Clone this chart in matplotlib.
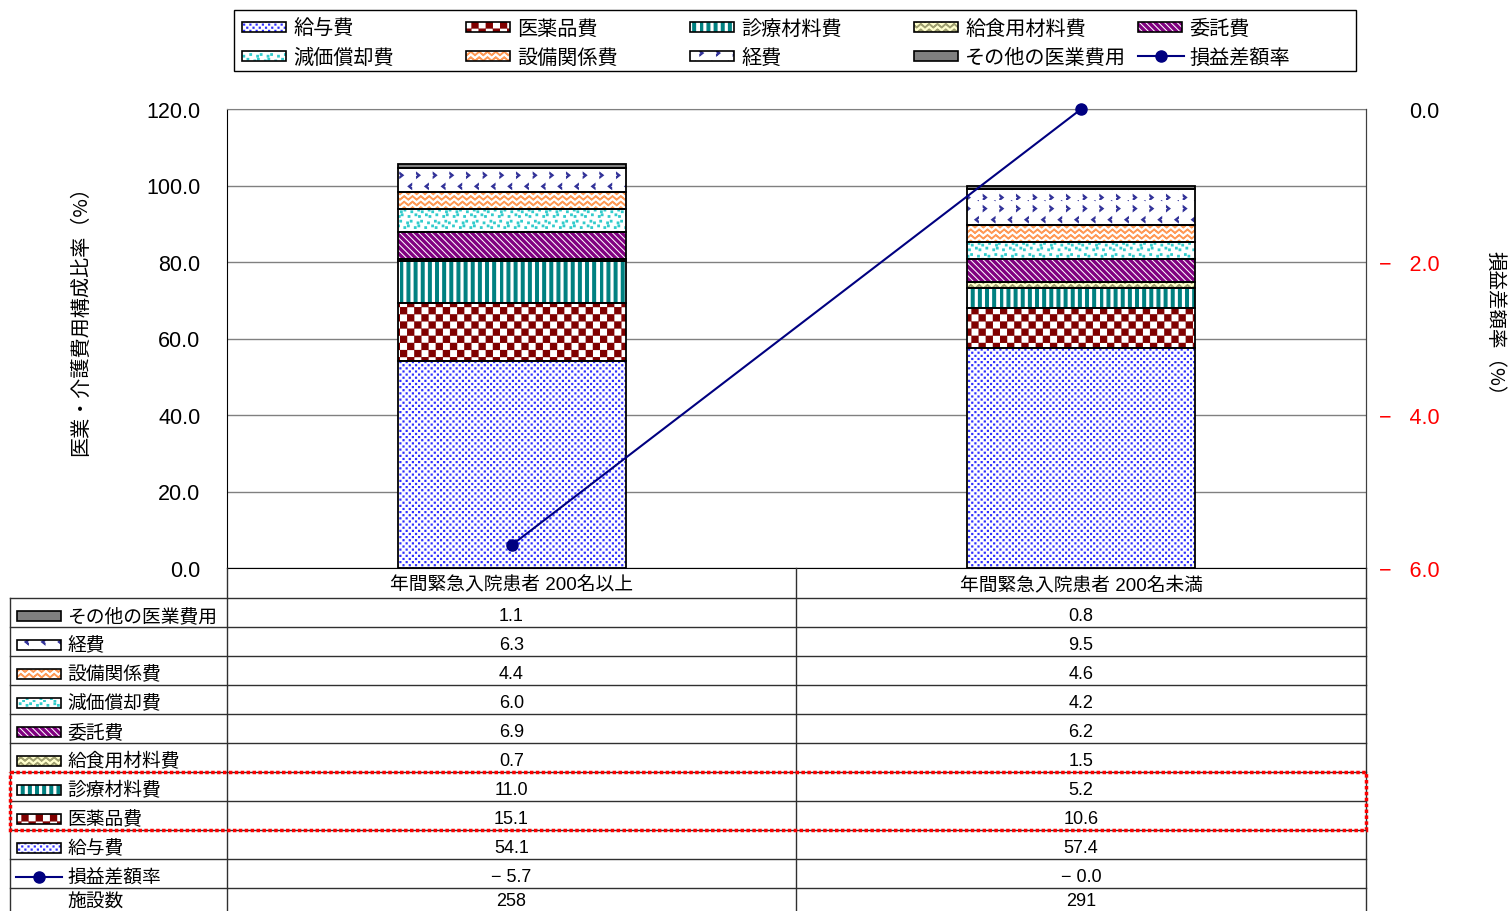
import warnings
warnings.filterwarnings('ignore')
import numpy as np
import matplotlib
matplotlib.use('Agg')
import matplotlib.pyplot as plt
import matplotlib.hatch as mhatch
from matplotlib.path import Path
from matplotlib.patches import Rectangle
from matplotlib import font_manager

# ---------------- data ----------------
categories = ['年間緊急入院患者 200名以上', '年間緊急入院患者 200名未満']
cost_items = ['給与費', '医薬品費', '診療材料費', '給食用材料費', '委託費',
              '減価償却費', '設備関係費', '経費', 'その他の医業費用']
ratio_200_over = [54.1, 15.1, 11.0, 0.7, 6.9, 6.0, 4.4, 6.3, 1.1]
ratio_200_under = [57.4, 10.6, 5.2, 1.5, 6.2, 4.2, 4.6, 9.5, 0.8]
profit_rate = [-5.7, -0.0]
facility_count = [258, 291]
line_name = '損益差額率'
count_name = '施設数'
left_label = '医業・介護費用構成比率（%）'
right_label = '損益差額率（%）'
left_ticks = [0, 20, 40, 60, 80, 100, 120]
right_ticks = [-6, -4, -2, 0]

# ---------------- fonts ----------------
CJK = 'Noto Sans CJK JP'
plt.rcParams['font.family'] = ['Liberation Sans', CJK, 'DejaVu Sans']
_names = {f.name for f in font_manager.fontManager.ttflist}
NUMFONT = ['Liberation Sans Narrow', CJK] if 'Liberation Sans Narrow' in _names else ['Liberation Sans', CJK]

# ---------------- custom hatch patterns (texture only) ----------------
def _rect(x0, y0, x1, y1):
    return [(x0, y0), (x1, y0), (x1, y1), (x0, y1)]

def gen_checker():
    n = 14; s = 1.0 / n; m = 0.006
    return [_rect(i * s + m, j * s + m, (i + 1) * s - m, (j + 1) * s - m)
            for i in range(n) for j in range(n) if (i + j) % 2 == 0]

def gen_stripes():
    n = 14; s = 1.0 / n; w = 0.026
    return [_rect(k * s, -0.03, k * s + w, 1.03) for k in range(n)]

def gen_diag():
    n = 16; p = 1.0 / n; w = 0.028; e = 0.05
    polys = []
    for k in range(-1, 2 * n + 2):
        a = k * p
        polys.append([(a + e, -e), (a + w + e, -e), (a + w - 1 - e, 1 + e), (a - 1 - e, 1 + e)])
    return polys

def gen_zigzag():
    nr = 18; nh = 12; amp = 0.035; t = 0.007
    polys = []
    idx = np.arange(-1, 2 * nh + 2)
    xs = idx / (2 * nh)
    for r in range(-1, nr + 1):
        y0 = r / nr
        ys = y0 + np.where(idx % 2 == 1, amp, 0.0)
        upper = list(zip(xs, ys + t))
        lower = list(zip(xs[::-1], ys[::-1]))
        polys.append(upper + lower)
    return polys

def gen_squares():
    n = 18; s = 1.0 / n; a = 0.014
    polys = []
    for j in range(n):
        for i in range(n):
            jx = (((i * 7 + j * 3) % 5) / 5.0 - 0.4) * s * 0.6
            jy = (((i * 2 + j * 5) % 4) / 4.0 - 0.4) * s * 0.6
            off = s / 2 if j % 2 else 0.0
            x0 = (i * s + off + jx) % 1.0
            y0 = (j * s + jy) % 1.0
            for dx in (-1, 0, 1):
                polys.append(_rect(x0 + dx, y0, x0 + dx + a, y0 + a))
    return polys

def gen_dots():
    nr = 32; nc = 16; a = 0.008
    polys = []
    for j in range(nr + 1):
        off = 0.5 / nc if j % 2 else 0.0
        for i in range(-1, nc + 1):
            x0 = i / nc + off; y0 = j / nr
            polys.append(_rect(x0, y0, x0 + a, y0 + a))
    return polys

def gen_chevrons():
    nr = 9; nc = 6; w = 0.032; h = 0.05; d = 0.012; ins = 0.016
    polys = []
    for j in range(nr + 1):
        y0 = j / nr
        for i in range(-1, nc + 1):
            if j % 2 == 0:
                x0 = i / nc
                polys.append([(x0, y0), (x0 + w, y0 + h / 2), (x0, y0 + h), (x0, y0 + h - d),
                              (x0 + w - ins, y0 + h / 2), (x0, y0 + d)])
            else:
                x0 = i / nc + 0.5 / nc
                polys.append([(x0 + w, y0), (x0, y0 + h / 2), (x0 + w, y0 + h), (x0 + w, y0 + h - d),
                              (x0 + ins, y0 + h / 2), (x0 + w, y0 + d)])
    return polys

CUSTOM = {'c': gen_checker, 's': gen_stripes, 'd': gen_diag, 'z': gen_zigzag,
          'q': gen_squares, 'p': gen_dots, 'k': gen_chevrons}
_hcache = {}

class CustomHatch(mhatch.HatchPatternBase):
    def __init__(self, hatch, density):
        polys = []
        for ch, fn in CUSTOM.items():
            if ch in hatch:
                if ch not in _hcache:
                    _hcache[ch] = fn()
                polys += _hcache[ch]
        self.polys = polys
        self.num_vertices = sum(len(p) + 1 for p in polys)

    def set_vertices_and_codes(self, vertices, codes):
        i = 0
        for p in self.polys:
            n = len(p)
            vertices[i:i + n] = p
            vertices[i + n] = p[0]
            codes[i] = Path.MOVETO
            codes[i + 1:i + n] = Path.LINETO
            codes[i + n] = Path.CLOSEPOLY
            i += n + 1

USE_CUSTOM = True
try:
    mhatch._hatch_types.append(CustomHatch)
    _test = Rectangle((0, 0), 1, 1, hatch='c')
    if len(mhatch.get_path('c', 6).vertices) == 0:
        USE_CUSTOM = False
except Exception:
    USE_CUSTOM = False

STYLE = {
    '給与費':       dict(face='white',   hc='#3030FF', h='p', fb='....'),
    '医薬品費':     dict(face='white',   hc='#800000', h='c', fb='++'),
    '診療材料費':   dict(face='white',   hc='#008080', h='s', fb='|||'),
    '給食用材料費': dict(face='#FFFFCC', hc='#A0A070', h='z', fb='xx'),
    '委託費':       dict(face='white',   hc='#800080', h='d', fb='\\\\\\'),
    '減価償却費':   dict(face='white',   hc='#33CCCC', h='q', fb='oo'),
    '設備関係費':   dict(face='white',   hc='#FF9955', h='z', fb='xx'),
    '経費':         dict(face='white',   hc='#333399', h='k', fb='.'),
    'その他の医業費用': dict(face='#808080', hc='#808080', h=None, fb=None),
}

def hatch_of(name):
    st = STYLE[name]
    return st['h'] if USE_CUSTOM else st['fb']

# ---------------- figure ----------------
W, H = 1509, 912
fig = plt.figure(figsize=(W / 100, H / 100), dpi=100)
L, R, T, B = 227, 1366, 110, 569
ax = fig.add_axes([L / W, 1 - B / H, (R - L) / W, (B - T) / H])

x = np.arange(len(categories))
series = np.array([ratio_200_over, ratio_200_under]).T
bottom = np.zeros(len(categories))
for i, name in enumerate(cost_items):
    st = STYLE[name]
    vals = series[i]
    ax.bar(x, vals, 0.4, bottom=bottom, color=st['face'], hatch=hatch_of(name),
           edgecolor=st['hc'], linewidth=0, zorder=2)
    ax.bar(x, vals, 0.4, bottom=bottom, fill=False, edgecolor='black',
           linewidth=1.3, zorder=3)
    bottom += vals

ax.set_xlim(-0.5, 1.5)
ax.set_ylim(0, 120)
ax.set_yticks(left_ticks)
ax.set_yticklabels([f'{v:.1f}' for v in left_ticks], fontsize=15.5)
ax.set_xticks([])
ax.tick_params(axis='y', length=0, pad=19)
ax.yaxis.grid(True, color='#808080', linewidth=1)
ax.set_axisbelow(True)
ax.spines['left'].set_color('black')
ax.spines['bottom'].set_color('black')
ax.spines['top'].set_color('#808080')
ax.spines['right'].set_color('#404040')
ax.set_ylabel(left_label, fontsize=14.5, family=[CJK], va='center', ha='center')
ax.yaxis.set_label_coords(-0.129, 0.551)

ax2 = ax.twinx()
ax2.plot(x, profit_rate, color='#000080', linewidth=1.5, marker='o', markersize=8,
         zorder=5, clip_on=False)
ax2.set_ylim(-6, 0)
ax2.set_yticks(right_ticks)

def fmt_signed(v):
    return f'\u2212 {abs(v):.1f}' if (v < 0 or np.signbit(v)) else f'{v:.1f}'

def fmt_tick(v):
    return f'\u2212   {abs(v):.1f}' if v < 0 else f'{v:.1f}'

ax2.set_yticklabels([fmt_tick(v) for v in right_ticks], fontsize=15.5)
for lab, v in zip(ax2.get_yticklabels(), right_ticks):
    lab.set_color('red' if v < 0 else 'black')
    lab.set_horizontalalignment('right')
ax2.tick_params(axis='y', length=0, pad=53)
for s in ['left', 'top', 'bottom']:
    ax2.spines[s].set_visible(False)
ax2.spines['right'].set_color('#404040')
ax2.set_ylabel(right_label, fontsize=14, family=[CJK], rotation=-90, va='center', ha='center')
ax2.yaxis.set_label_coords(1.113, 0.525)

# ---------------- overlay: legend + data table ----------------
ov = fig.add_axes([0, 0, 1, 1])
ov.set_xlim(0, W)
ov.set_ylim(H, 0)
ov.axis('off')

def swatch(x0, yc, name, w=44, h=10):
    st = STYLE[name]
    ov.add_patch(Rectangle((x0, yc - h / 2), w, h, facecolor=st['face'], hatch=hatch_of(name),
                           edgecolor=st['hc'], linewidth=0, zorder=3))
    ov.add_patch(Rectangle((x0, yc - h / 2), w, h, fill=False, edgecolor='black',
                           linewidth=1.2, zorder=4))

def line_icon(x0, yc, w=46):
    ov.plot([x0, x0 + w], [yc, yc], color='#000080', linewidth=1.5, zorder=4)
    ov.plot([x0 + w / 2], [yc], color='#000080', marker='o', markersize=8, zorder=4)

# legend box
ov.add_patch(Rectangle((234, 11), 1122, 61, fill=False, edgecolor='black', linewidth=1))
leg_x = [242, 466, 690, 914, 1138]
leg_y = [28, 57]
for k, name in enumerate(cost_items + [line_name]):
    r, c = divmod(k, 5)
    x0, yc = leg_x[c], leg_y[r]
    if name == line_name:
        line_icon(x0, yc)
    else:
        swatch(x0, yc, name, 44, 10)
    ov.text(x0 + 51, yc + 1, name, fontsize=14.5, family=[CJK], ha='left', va='center')

# table
col_c = [511.5, 1081]
tx0, tx1, tx2, tx3 = 10, 227, 796, 1366
hdr_top, hdr_bot, row_h = 569, 599, 29
row_names = list(reversed(cost_items)) + [line_name, count_name]
row_vals = [[f'{series[cost_items.index(n)][j]:.1f}' for j in range(len(categories))]
            for n in reversed(cost_items)]
row_vals.append([fmt_signed(v) for v in profit_rate])
row_vals.append([f'{n}' for n in facility_count])

lc = '#303030'
for j, cat in enumerate(categories):
    ov.text(col_c[j], 585, cat, fontsize=13.5, family=NUMFONT, ha='center', va='center')
for xv, y0 in [(tx1, hdr_top), (tx2, hdr_top), (tx3, hdr_top), (tx0, hdr_bot)]:
    ov.plot([xv, xv], [y0, H + 5], color=lc, linewidth=1, zorder=2)
for k in range(len(row_names)):
    yt = hdr_bot + k * row_h
    ov.plot([tx0, tx3], [yt, yt], color=lc, linewidth=1, zorder=2)
    ym = yt + 18
    name = row_names[k]
    if name == count_name:
        ym = min(ym, H - 10)   # keep last (partly hidden) row readable
    if name in STYLE:
        swatch(17, ym, name, 44, 10)
    elif name == line_name:
        line_icon(16, ym)
    ov.text(67, ym, name, fontsize=13.5, family=[CJK], ha='left', va='center')
    for j in range(len(categories)):
        ov.text(col_c[j], ym, row_vals[k][j], fontsize=13, family=NUMFONT,
                ha='center', va='center')

# highlight box around 診療材料費 / 医薬品費 rows
i1 = row_names.index('診療材料費')
i2 = row_names.index('医薬品費')
ov.add_patch(Rectangle((tx0, hdr_bot + i1 * row_h), tx3 - tx0, (i2 - i1 + 1) * row_h,
                       fill=False, edgecolor='#FF0000', linewidth=2.5,
                       linestyle=(0, (1, 0.7)), zorder=6))

fig.savefig('out.png', dpi=100)
